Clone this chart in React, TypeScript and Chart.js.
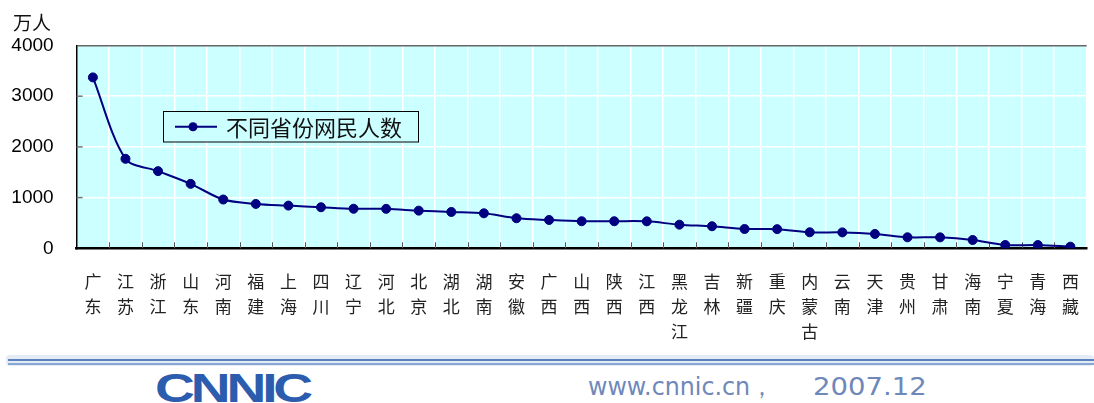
import React, { useEffect, useRef } from 'react';
import { Chart, registerables } from 'chart.js';

Chart.register(...registerables);

// ---- data ----
const provinces: string[][] = [
  ['广', '东'], ['江', '苏'], ['浙', '江'], ['山', '东'], ['河', '南'], ['福', '建'],
  ['上', '海'], ['四', '川'], ['辽', '宁'], ['河', '北'], ['北', '京'], ['湖', '北'],
  ['湖', '南'], ['安', '徽'], ['广', '西'], ['山', '西'], ['陕', '西'], ['江', '西'],
  ['黑', '龙', '江'], ['吉', '林'], ['新', '疆'], ['重', '庆'], ['内', '蒙', '古'], ['云', '南'],
  ['天', '津'], ['贵', '州'], ['甘', '肃'], ['海', '南'], ['宁', '夏'], ['青', '海'], ['西', '藏'],
];
const netizens: number[] = [
  3371, 1765, 1522, 1271, 962, 875,
  842, 810, 780, 778, 743, 717,
  691, 593, 559, 534, 534, 532,
  466, 435, 381, 378, 316, 314,
  283, 217, 216, 164, 65, 64, 32,
];
const yTicks: number[] = [0, 1000, 2000, 3000, 4000];
const seriesLabel = '不同省份网民人数';
const yUnit = '万人';
const footerUrl = 'www.cnnic.cn，';
const footerDate = '2007.12';
const logoText = 'CNNIC';

const NAVY = '#000080';
const PLOT_BG = '#CCFFFF';

const plotDecor = {
  id: 'plotDecor',
  beforeDraw(chart: any) {
    const { ctx, chartArea: a } = chart;
    ctx.save();
    ctx.fillStyle = PLOT_BG;
    ctx.fillRect(a.left, a.top, a.right - a.left, a.bottom - a.top);
    ctx.restore();
  },
  beforeDatasetsDraw(chart: any) {
    const { ctx, chartArea: a, scales } = chart;
    const xs = scales.x;
    const ys = scales.y;
    ctx.save();
    ctx.strokeStyle = '#555';
    ctx.lineWidth = 1;
    for (let i = 1; i < provinces.length; i++) {
      const px = Math.round(xs.getPixelForValue(i - 0.5)) + 0.5;
      ctx.beginPath();
      ctx.moveTo(px, a.bottom);
      ctx.lineTo(px, a.bottom - 6);
      ctx.stroke();
    }
    ctx.strokeStyle = '#777';
    ctx.lineWidth = 1.5;
    yTicks.forEach((v) => {
      if (v === 0 || v === 4000) return;
      const py = ys.getPixelForValue(v);
      ctx.beginPath();
      ctx.moveTo(a.left, py);
      ctx.lineTo(a.left + 6, py);
      ctx.stroke();
    });
    ctx.restore();
  },
  afterDraw(chart: any) {
    const { ctx } = chart;
    const ds = chart.data.datasets[0];
    const bx = 163, by = 111, bw = 255, bh = 30.5;
    ctx.save();
    ctx.fillStyle = PLOT_BG;
    ctx.fillRect(bx, by, bw, bh);
    ctx.strokeStyle = '#000';
    ctx.lineWidth = 1;
    ctx.strokeRect(bx + 0.5, by + 0.5, bw, bh);
    const cy = by + bh / 2 + 0.5;
    ctx.strokeStyle = ds.borderColor;
    ctx.lineWidth = 2;
    ctx.beginPath();
    ctx.moveTo(175, cy);
    ctx.lineTo(217, cy);
    ctx.stroke();
    ctx.fillStyle = ds.pointBackgroundColor;
    ctx.beginPath();
    ctx.arc(193, cy, 4.5, 0, Math.PI * 2);
    ctx.fill();
    ctx.fillStyle = '#111';
    ctx.font = '22px "Noto Sans CJK SC"';
    ctx.textBaseline = 'middle';
    ctx.textAlign = 'left';
    ctx.fillText(ds.label, 226, cy + 1);
    ctx.restore();
  },
};

export default function App() {
  const canvasRef = useRef<HTMLCanvasElement | null>(null);

  useEffect(() => {
    if (!canvasRef.current) return;
    const chart = new Chart(canvasRef.current, {
      type: 'line',
      data: {
        labels: provinces,
        datasets: [
          {
            label: seriesLabel,
            data: netizens,
            borderColor: NAVY,
            backgroundColor: NAVY,
            pointBackgroundColor: NAVY,
            pointBorderColor: NAVY,
            pointRadius: 4.5,
            pointBorderWidth: 1,
            borderWidth: 2,
            tension: 0.3,
            fill: false,
          },
        ],
      },
      options: {
        animation: false,
        responsive: false,
        devicePixelRatio: 1,
        layout: { padding: { top: 45.5, right: 4.4, left: 0, bottom: 0 } },
        plugins: {
          legend: { display: false },
          tooltip: { enabled: false },
        },
        scales: {
          x: {
            type: 'category',
            offset: true,
            afterFit: (s: any) => {
              s.height = 345 - 248.3;
            },
            grid: {
              offset: true,
              color: '#FFFFFF',
              lineWidth: 1.5,
              drawTicks: false,
            },
            border: { color: '#000', width: 2.5 },
            ticks: {
              autoSkip: false,
              maxRotation: 0,
              minRotation: 0,
              padding: 21,
              color: '#222',
              font: { family: '"Noto Sans CJK SC"', size: 17, lineHeight: '25px' } as any,
            },
          },
          y: {
            min: 0,
            max: 4000,
            afterFit: (s: any) => {
              s.width = 76.6;
            },
            afterBuildTicks: (s: any) => {
              s.ticks = yTicks.map((v) => ({ value: v }));
            },
            grid: {
              color: (c: any) => (c.tick && c.tick.value === 4000 ? '#666' : '#FFFFFF'),
              lineWidth: 1.5,
              drawTicks: false,
            },
            border: { color: '#000', width: 1.5 },
            ticks: {
              padding: 23,
              color: '#000',
              callback: (v: any) => String(v),
              font: { family: '"Liberation Sans", Arial, sans-serif', size: 19 },
            },
          },
        },
      },
      plugins: [plotDecor],
    } as any);
    return () => chart.destroy();
  }, []);

  return (
    <div
      style={{
        position: 'absolute',
        left: 0,
        top: 0,
        width: 1094,
        height: 403,
        overflow: 'hidden',
        background: '#fff',
      }}
    >
      <canvas
        ref={canvasRef}
        width={1100}
        height={345}
        style={{ position: 'absolute', left: 0, top: 0, width: 1100, height: 345 }}
      />
      <div
        style={{
          position: 'absolute',
          left: 13,
          top: 11,
          fontFamily: '"Noto Sans CJK SC"',
          fontSize: 19,
          lineHeight: '22px',
          color: '#111',
        }}
      >
        {yUnit}
      </div>
      <div style={{ position: 'absolute', left: 6, right: 0, top: 355, height: 11, background: '#e3ebf5', borderRadius: 4 }} />
      <div style={{ position: 'absolute', left: 8, right: 0, top: 359, height: 2, background: '#5a82bf' }} />
      <div style={{ position: 'absolute', left: 8, right: 0, top: 363, height: 2, background: '#8aa6d2' }} />
      <div
        style={{
          position: 'absolute',
          left: 155,
          top: 368,
          fontFamily: '"Liberation Sans", Arial, sans-serif',
          fontWeight: 'bold',
          fontSize: 40,
          lineHeight: '40px',
          letterSpacing: -3,
          color: '#2b5cad',
          transform: 'scaleX(1.38)',
          transformOrigin: 'left top',
        }}
      >
        {logoText}
      </div>
      <div
        style={{
          position: 'absolute',
          left: 588,
          top: 372,
          fontFamily: '"DejaVu Sans", sans-serif',
          fontSize: 25,
          lineHeight: '30px',
          color: '#6f88ba',
          whiteSpace: 'nowrap',
          transform: 'scaleX(0.95)',
          transformOrigin: 'left top',
        }}
      >
        {footerUrl}
      </div>
      <div
        style={{
          position: 'absolute',
          left: 813,
          top: 372,
          fontFamily: '"DejaVu Sans", sans-serif',
          fontSize: 25,
          lineHeight: '30px',
          color: '#6f88ba',
          whiteSpace: 'nowrap',
          transform: 'scaleX(1.1)',
          transformOrigin: 'left top',
        }}
      >
        {footerDate}
      </div>
    </div>
  );
}
